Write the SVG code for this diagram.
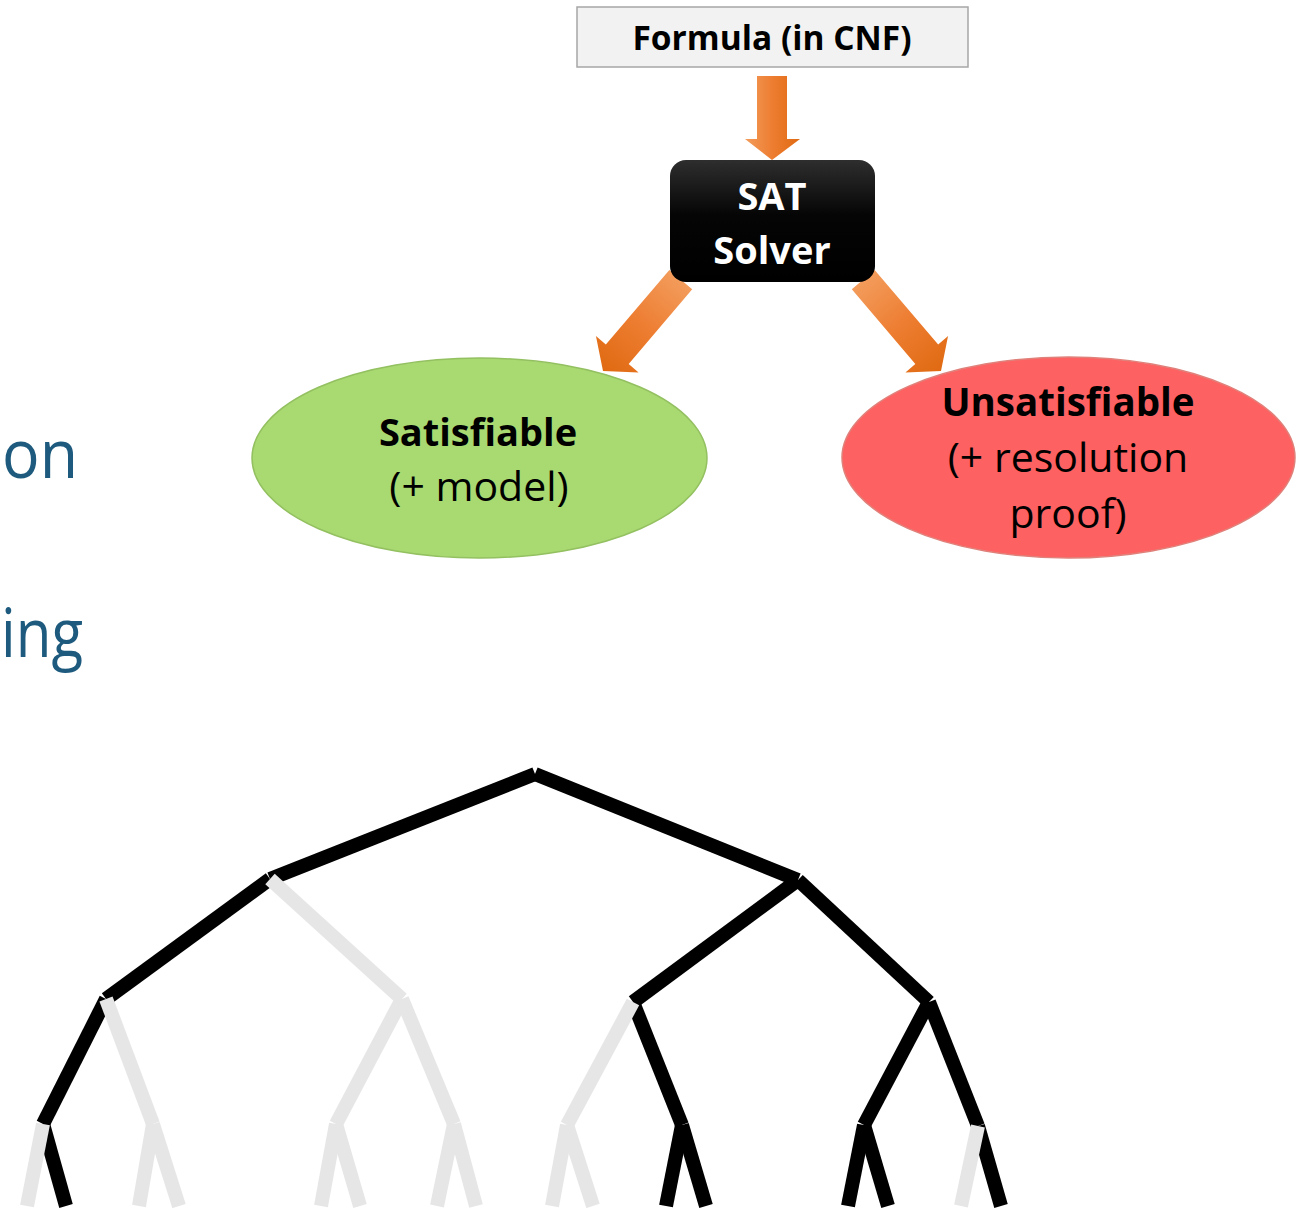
<svg xmlns="http://www.w3.org/2000/svg" width="1306" height="1208" viewBox="0 0 1306 1208">
<defs>
<linearGradient id="org" x1="0" y1="0" x2="1" y2="0">
<stop offset="0" stop-color="#f39c5c"/>
<stop offset="0.5" stop-color="#ed7d31"/>
<stop offset="1" stop-color="#e06a12"/>
</linearGradient>
<linearGradient id="blk" x1="0" y1="0" x2="0" y2="1">
<stop offset="0" stop-color="#2e2e2e"/>
<stop offset="0.45" stop-color="#050505"/>
<stop offset="1" stop-color="#000"/>
</linearGradient>
<polygon id="arr" points="-120,-15 -22,-15 -22,-28 0,0 -22,28 -22,15 -120,15"/>
</defs>
<style>
.t{font-family:"Open Sans","Noto Sans","Liberation Sans",sans-serif;text-anchor:middle}
.b{font-weight:bold}
.side{font-family:"Open Sans","Noto Sans","Liberation Sans",sans-serif;fill:#1d5a7e;font-size:68px}
.tb line{stroke:#000;stroke-width:14;stroke-linecap:butt}
.tg line{stroke:#e6e6e6;stroke-width:14;stroke-linecap:butt}
</style>
<rect width="1306" height="1208" fill="#fff"/>

<g id="side-text">
<text class="side" x="2" y="478" textLength="76" lengthAdjust="spacingAndGlyphs">on</text>
<text class="side" x="1" y="657" textLength="82" lengthAdjust="spacingAndGlyphs">ing</text>
</g>

<g id="connectors">
<use href="#arr" fill="url(#org)" transform="translate(603,371) rotate(130.4)"/>
<use href="#arr" fill="url(#org)" transform="translate(941,371) rotate(49.6)"/>
<polygon points="757,76 787,76 787,139 800,139 772,160 745,139 757,139" fill="url(#org)"/>
</g>

<g id="formula">
<rect x="577" y="7" width="391" height="60" fill="#f2f2f2" stroke="#a6a6a6" stroke-width="1.5"/>
<text class="t b" x="772" y="50" font-size="33.5">Formula (in CNF)</text>
</g>

<g id="solver">
<rect x="670" y="160" width="205" height="122" rx="16" fill="url(#blk)"/>
<text class="t b" x="772" y="210" font-size="38" fill="#fff">SAT</text>
<text class="t b" x="772" y="264" font-size="38" fill="#fff">Solver</text>
</g>

<g id="sat">
<ellipse cx="479.5" cy="458" rx="227.5" ry="100" fill="#a9d971" stroke="#93c060" stroke-width="1.5"/>
<text class="t b" x="478" y="446" font-size="38">Satisfiable</text>
<text class="t" x="479" y="501" font-size="41">(+ model)</text>
</g>

<g id="unsat">
<ellipse cx="1068.5" cy="457.5" rx="226.5" ry="100.5" fill="#fe6161" stroke="#e0807a" stroke-width="1.5"/>
<text class="t b" x="1068" y="416" font-size="38.5">Unsatisfiable</text>
<text class="t" x="1068" y="472" font-size="41">(+ resolution</text>
<text class="t" x="1068" y="528" font-size="41">proof)</text>
</g>

<g id="tree">
<g class="tb">
<line x1="535" y1="774" x2="270" y2="879"/>
<line x1="535" y1="774" x2="798" y2="880"/>
<line x1="270" y1="879" x2="106" y2="999"/>
<line x1="798" y1="880" x2="633" y2="1002"/>
<line x1="798" y1="880" x2="929" y2="1002"/>
<line x1="106" y1="999" x2="43" y2="1124"/>
<line x1="633" y1="1002" x2="682" y2="1125"/>
<line x1="929" y1="1002" x2="864" y2="1125"/>
<line x1="929" y1="1002" x2="978" y2="1126"/>
<line x1="43" y1="1124" x2="66" y2="1206"/>
<line x1="682" y1="1125" x2="666" y2="1206"/>
<line x1="682" y1="1125" x2="706" y2="1206"/>
<line x1="864" y1="1125" x2="848" y2="1206"/>
<line x1="864" y1="1125" x2="888" y2="1206"/>
<line x1="978" y1="1126" x2="1001" y2="1206"/>
</g>
<g class="tg">
<line x1="270" y1="879" x2="402" y2="999"/>
<line x1="106" y1="999" x2="153" y2="1124"/>
<line x1="402" y1="999" x2="336" y2="1124"/>
<line x1="402" y1="999" x2="454" y2="1124"/>
<line x1="633" y1="1002" x2="567" y2="1125"/>
<line x1="43" y1="1124" x2="27" y2="1206"/>
<line x1="153" y1="1124" x2="139" y2="1206"/>
<line x1="153" y1="1124" x2="179" y2="1206"/>
<line x1="336" y1="1124" x2="321" y2="1206"/>
<line x1="336" y1="1124" x2="360" y2="1206"/>
<line x1="454" y1="1124" x2="437" y2="1206"/>
<line x1="454" y1="1124" x2="476" y2="1206"/>
<line x1="567" y1="1125" x2="552" y2="1206"/>
<line x1="567" y1="1125" x2="593" y2="1206"/>
<line x1="978" y1="1126" x2="961" y2="1206"/>
</g>
</g>
</svg>
